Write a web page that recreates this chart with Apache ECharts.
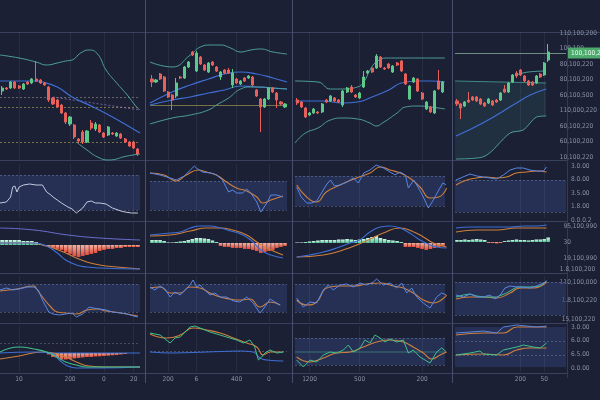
<!DOCTYPE html>
<html><head><meta charset="utf-8">
<script src="https://cdn.jsdelivr.net/npm/echarts/dist/echarts.min.js"></script>
<style>html,body{margin:0;padding:0;background:#1b2034;}#c{width:600px;height:400px;}</style>
</head><body><div id="c"></div>
<script>
// ---------------- DATA ----------------
// candles [open, close, low, high]
const candles1 = [[69,72,65,74],[72,71,70,73],[72,78,71,79],[78,72,71,79],[74,72,71,75],[71,76,70,77],[78,76,75,79],[77,81,76,82],[81,79,78,99],[80,77,76,81],[77,75,74,78],[73,60,58,74],[62,56,55,63],[60,53,52,61],[55,47,46,56],[47,38,36,48],[36,43,34,44],[35,23,21,36],[21,19,17,22],[28,18,16,30],[18,29,17,30],[37,32,30,40],[31,36,29,38],[35,28,27,36],[27,23,22,28],[25,33,24,34],[27,26,25,28],[24,27,23,28],[26,22,21,27],[21,18,17,22],[18,14,13,19],[18,12,11,19],[11,6,4,12]];
const candles2 = [[81,78,73,85],[78,80,77,81],[86,81,80,87],[83,69,68,84],[68,63,62,69],[65,60,50,66],[64,77,62,82],[83,82,81,84],[82,93,81,94],[93,98,92,99],[108,105,104,109],[89,107,88,109],[103,96,95,104],[95,90,89,96],[88,97,87,98],[98,95,94,99],[93,89,88,94],[83,88,80,89],[90,87,86,91],[90,87,86,92],[75,87,72,91],[81,77,76,82],[76,79,75,80],[82,79,78,83],[82,84,81,85],[83,75,74,84],[70,64,63,71],[61,53,28,62],[53,61,52,62],[61,72,60,73],[72,68,67,73],[67,60,52,68],[58,56,55,59],[53,56,52,57]];
const candles3 = [[60,57,55,62],[58,53,52,59],[52,43,42,53],[45,47,44,48],[47,51,46,52],[48,47,46,49],[48,56,47,57],[60,58,57,61],[59,64,58,65],[62,59,58,63],[60,58,57,61],[55,69,53,70],[68,72,67,73],[73,68,67,75],[65,63,62,66],[62,67,61,68],[73,83,72,89],[87,89,86,90],[92,88,87,93],[92,104,91,106],[103,93,92,104],[92,91,90,93],[96,92,91,97],[88,94,87,95],[97,95,94,98],[99,89,88,100],[86,76,75,87],[61,74,60,75],[78,82,77,83],[81,69,68,82],[67,61,60,68],[51,58,50,59],[53,48,47,54],[47,69,46,70],[79,71,70,90],[68,78,67,79]];
const candles4 = [[59,56,54,61],[56,52,41,57],[54,58,53,59],[60,58,57,68],[63,60,59,64],[63,59,58,64],[61,56,55,62],[57,54,53,58],[57,61,56,62],[59,55,54,60],[60,58,57,61],[60,67,59,68],[71,68,67,75],[68,77,67,78],[78,85,77,86],[87,84,82,89],[90,85,84,91],[84,79,78,85],[79,75,74,80],[78,75,74,79],[77,84,76,85],[86,83,82,87],[85,97,84,98],[100,108,98,116]];

// band lines [index, value]
const bbUp1 = [[-0.5,105],[4,102],[8,98],[10.5,95],[13,97],[15,99],[16.5,100],[18.5,107],[20.5,110],[22.5,106],[24.5,90],[27,77],[29.5,65],[31.5,54],[32.5,50]];
const bbMid1 = [[-0.5,79],[7.5,79],[9.5,78],[13,73],[16.5,63],[21.5,53],[26,43],[32.5,27]];
const bbLow1 = [[17.5,18],[20,10],[22.5,3],[25,0],[29.5,4],[32.5,6]];
const bbUp2 = [[-0.5,98],[5,93],[9.5,105],[12,113],[14.5,115],[17,115],[19.5,112],[22,108],[24.5,110],[27,111],[30,108],[33.5,106]];
const bbMidA2 = [[-0.5,57],[5,68],[9.5,75],[14,81],[18,86],[22,88],[26,86],[30,82],[33.5,78]];
const bbMidB2 = [[-0.5,55],[5,60],[9.5,63],[14,67],[18,70],[22,74],[26,73],[33.5,71]];
const bbLow2 = [[-0.5,36],[5,42],[9.5,45],[14,50],[16,55],[19,62],[22,71],[24.5,73],[27,73],[30,72],[33.5,71]];
const bbUp3 = [[-0.5,79],[5,78],[8,71],[11,71],[14.5,73],[16,78],[17.5,90],[19,98],[21.5,102],[24.5,102],[29,102],[32,102],[35.5,102]];
const bbMid3 = [[-0.5,59],[6,59],[11,57],[14.5,58],[18,63],[22,70],[25,77],[29,79],[32,79],[35.5,78]];
const bbLow3 = [[-0.5,17],[2,27],[5,32],[8,40],[11,42],[14.5,41],[17.5,37],[19,34],[20.5,37],[24,47],[26,53],[29,54],[32,53],[35.5,51]];
const bbFlat4 = [[-0.5,79],[22.5,77]];
const bbUp4 = [[15,85],[18,88],[22.5,89]];
const bbMid4 = [[-0.25,24],[6.5,37],[15,57],[18.5,65],[22.5,71]];
const bbLow4 = [[-0.25,1],[6.5,3],[13.4,27],[16.7,30],[20.1,43],[22.5,44]];
const levels1 = [63,53,18];
const slope1 = [[12,63],[32.5,50]];
const level2 = 55;
const tagValue = 107;
const tagLabel = "100,100,220";

// row 2 oscillators
const osc1 = [[-0.5,15],[1,16],[2,21],[2.5,31],[3,32],[3.5,26],[4,31],[5,33],[6.5,34],[8,33],[9.5,33],[10.5,26],[11.5,23],[12,21],[13,18],[14,15],[15.5,11],[16.5,9],[17.5,5],[19,10],[20,16],[21,17],[22,15],[23,15],[24.5,14],[26,10],[28,7],[29,6],[30.5,5],[32,5]];
const osc2B = [[-0.5,45],[2,43],[4.5,40],[6,38],[8,42],[9.5,48],[10.5,52],[11,50],[12.5,46],[14.5,45],[16,43],[17.5,38],[19,26],[20,28],[21,25],[22.5,25],[23.5,29],[24.5,25],[26,16],[27,6],[28.5,15],[29.5,23],[31,23],[32.5,21]];
const osc2O = [[-0.5,45],[3,43],[6,37],[8.5,43],[11.5,48],[13.5,46],[16,43],[18.5,36],[21,30],[23.5,27],[26,21],[27.5,15],[29.5,18],[32.5,22]];
const osc3B = [[-0.1,31],[1,21],[2.3,15],[3.5,15],[4.7,17],[6,26],[7,33],[8,38],[9,32],[10.3,33],[12,36],[13.5,40],[14.7,35],[16,45],[17.5,48],[19,53],[20.7,50],[22.3,46],[23.5,43],[24.7,46],[26,43],[26.7,30],[28,38],[29,31],[30.3,21],[31.5,10],[32.7,18],[34,28],[35,35],[35.9,33]];
const osc3O = [[-0.1,33],[2.3,21],[4.7,16],[7,26],[10.3,33],[14.3,40],[17.5,45],[20,51],[22.3,48],[24.7,45],[27,40],[29.5,31],[32,20],[34,21],[35.9,30]];
const osc4B = [[-0.25,38],[1.5,41],[3.3,44],[5,42],[6.7,41],[8.3,40],[10,39],[11.7,43],[13.4,48],[15,50],[16.7,50],[18.4,48],[20,47],[21.8,47],[22.6,51]];
const osc4O = [[-0.25,33],[2.5,38],[5,40],[7.5,41],[10,40],[12.5,41],[15,45],[17.5,46],[20,47],[22.6,46]];
const oscBand = [[8,43],[8,37],[12,42],[6,38]];

// row 3 MACD
const macd1P = [[-0.5,17],[7.5,15],[15.5,10],[23,7],[32.5,5]];
const macd1O = [[-0.5,2],[3.5,2],[7.5,2],[9.5,0],[12,-3],[15,-8],[17.5,-13],[20,-17],[23,-20],[27,-22],[32.5,-24]];
const macd1B = [[-0.5,2],[7.5,2],[10.5,-1],[13,-8],[15,-15],[17.5,-20],[20,-22],[23,-23],[32.5,-24]];
const hist1 = [5,5,5,5,5,4,4,4,3,1,-1,-2,-3,-4,-5,-7,-9,-11,-12,-11,-10,-9,-8,-6,-5,-4,-4,-3,-3,-2,-2,-2,-2];
const macd2B = [[-0.5,8],[4.5,10],[7,11],[9.5,15],[12,17],[14.5,17],[17,15],[19.5,12],[22,9],[24.5,3],[27,-7],[29.5,-12],[32.5,-15]];
const macd2O = [[-0.5,7],[4.5,8],[9.5,12],[13.5,15],[17,15],[20,13],[23.5,8],[26,1],[28.5,-5],[32.5,-12]];
const hist2 = [3,3,3,2,0.5,0.5,1,1.5,2,3,4,5,5,4.5,4,2.5,1,-3,-4,-4,-5,-5,-5,-6,-6,-7,-8,-10,-9,-8,-7,-5,-4,-3];
const macd3B = [[-0.1,-14],[3,-12],[6.3,-9],[9.5,-5],[12.7,0],[15,3],[17.5,11],[20,16],[22.3,17],[24.7,15],[27,10],[29.5,3],[32,-2],[33.5,-4],[35.9,-5]];
const macd3O = [[-0.1,-14],[6.3,-12],[11,-7],[16,1],[20.7,10],[24.7,15],[28,11],[30.3,6],[32.7,0],[35.9,-4]];
const hist3 = [0.5,0.5,1,1.5,2,2.5,3,3,3,3,3.5,3.5,4,3.5,3,3.5,4,5,6,7,5,4,3,2.5,2,1,-4,-4,-4,-5,-6,-7,-6,-5,-4,-3];
const macd4B = [[-0.25,14],[3.3,15],[8.3,15],[13.4,15],[16.8,16],[20.1,16],[22.6,17]];
const macd4O = [[-0.25,10],[5,12],[10,12],[15.1,14],[20.1,14],[22.6,14]];
const hist4 = [2,2,2.5,2,2.5,3,2.5,2,-1,-1,-1.5,-1,1,1.5,2,2.5,2,2,1.5,2,2.5,2.5,3,4.5];
const macdZero = [245,243,243,242];

// row 4
const r4c1B = [[-0.5,32],[1,34],[2.5,32],[4,33],[6,35],[7.5,35],[8.5,32],[9.5,22],[11,10],[12,8],[13.5,7],[15,8],[16.5,9],[17.5,5],[19,8],[20.5,15],[21.5,14],[23,13],[24.5,12],[26,10],[28,9],[29.5,8],[31,6],[32,5]];
const r4c1O = [[-0.5,31],[3.5,33],[7.5,36],[8,34],[9.5,25],[11.5,15],[13,10],[15,9],[17.5,8],[20,12],[22.5,13],[24.5,11],[28,9],[32,6]];
const r4c2B = [[-0.5,35],[0.7,32],[2,36],[3.2,33],[4.5,25],[5.7,30],[7,27],[8.2,32],[9.4,37],[10.2,42],[11.1,35],[11.9,37],[13.1,32],[14.4,27],[15.6,29],[16.9,25],[18.5,25],[20.2,21],[21.8,20],[23.5,25],[25.1,19],[26.8,9],[28,15],[29.3,23],[30.5,20],[31.8,17]];
const r4c2O = [[-0.5,34],[2,35],[4.5,29],[7,29],[9.4,35],[11.9,34],[14.4,29],[16.9,25],[19.3,23],[21.8,22],[24.3,23],[26.8,15],[29.3,20],[31.8,17]];
const r4c3B = [[-0.1,24],[1.5,15],[3.1,20],[4.7,19],[6.3,32],[7.5,37],[8.7,32],[10.3,37],[11.9,38],[13.5,35],[15.1,39],[16.7,37],[18.3,40],[19.1,43],[20.7,37],[22.3,39],[23.9,34],[25.1,39],[26.3,29],[27.5,34],[28.7,25],[30.3,19],[31.9,14],[33.5,25],[34.7,29],[35.9,27]];
const r4c3O = [[-0.1,22],[2.3,17],[4.7,20],[7.1,34],[10.3,36],[13.5,36],[16.7,38],[19.9,39],[23.1,36],[25.5,34],[27.9,29],[30.3,22],[32.7,19],[35.9,27]];
const r4c4B = [[-0.25,27],[1.6,25],[3.3,28],[5,25],[6.7,25],[8.3,27],[9.6,23],[10.9,27],[12.1,34],[13.4,36],[15.1,35],[16.7,35],[18.4,34],[20.1,36],[21.8,39],[22.6,41]];
const r4c4G = [[-0.25,25],[1.6,27],[3.3,28],[5,26],[6.7,25],[10,25],[12.5,29],[15.1,35],[18.4,35],[21,36],[22.6,41]];
const r4c4O = [[-0.25,23],[3.3,25],[6.7,25],[10,24],[13.4,29],[15.9,34],[19.3,34],[22.6,40]];
const r4Band = [[10,38],[10,38],[10,38],[7,40]];

// row 5
const r5c1G = [[-0.5,20],[4,25],[7.5,23],[10.5,20],[13,15],[15,10],[17.5,7],[20,5],[23,5],[32.5,5]];
const r5c1O = [[-0.5,13],[4,16],[9.5,20],[12,19],[15,15],[17.5,10],[20.5,6],[24.5,5],[32.5,5]];
const r5c1B = [[-0.5,19],[7.5,20],[11.5,19],[13.5,12],[15,7],[17.5,4],[23,4],[32.5,5]];
const r5c1Base = [[10.5,19],[32.5,19]];
const r5hist1 = [null,null,null,null,null,null,null,null,null,null,null,-1.5,-4,-5,-6.5,-6.5,-6,-5.5,-5,-4.5,-4,-4,-3.5,-3.3,-3,-2.7,-2.3,-2,-1.5,-1,null,null,null];
const r5c2G = [[-0.5,39],[2,37],[4.5,29],[5.7,34],[7,35],[9.4,45],[10.7,46],[11.9,44],[14.4,40],[16.9,37],[19.3,34],[21,32],[22.7,29],[24.3,32],[25.5,25],[26.4,12],[27.2,15],[28,19],[29.3,22],[31,19],[32.6,20]];
const r5c2O = [[-0.5,38],[3.6,34],[7,37],[10.2,44],[13.6,42],[16.9,39],[20.2,34],[23.5,29],[26,25],[27.6,17],[29.3,20],[32.6,20]];
const r5c2B = [[-0.5,20],[5.3,19],[13.6,20],[21.8,21],[25.1,20],[26.8,14],[28.5,12],[32.6,11]];
const r5c3G = [[-0.1,12],[1.5,5],[3.1,12],[4.7,10],[6.3,17],[7.9,20],[9.5,19],[11.1,22],[12.3,27],[13.5,20],[15.1,24],[16.3,32],[17.5,29],[18.7,37],[19.9,34],[21.1,30],[22.3,33],[23.9,30],[25.5,32],[26.7,19],[27.9,22],[29.5,15],[31.9,9],[33.5,20],[34.7,24],[35.9,20]];
const r5c3O = [[-0.1,15],[3.1,10],[6.3,14],[9.5,19],[12.7,20],[15.9,25],[19.1,30],[22.3,32],[25.5,30],[27.9,25],[30.3,19],[32.3,13],[34.3,17],[35.9,20]];
const r5c3Mid = [[-0.5,20],[35.5,20]];
const r5c4B = [[-0.25,39],[3.3,40],[6.7,41],[10,39],[11.7,45],[13.4,46],[15.1,47],[17.6,46],[20.1,45],[22.6,46]];
const r5c4O1 = [[-0.25,37],[6.7,39],[11.7,39],[15.1,45],[18.4,45],[22.6,45]];
const r5c4G = [[-0.25,17],[3.3,19],[5.8,21],[6.7,18],[10,17],[11.7,22],[15.1,25],[16.8,27],[19.3,25],[21,24],[22.6,29]];
const r5c4O2 = [[-0.25,17],[6.7,18],[11.7,17],[15.1,22],[18.4,24],[22.6,24]];

// tick labels
const xTickIdx = [[4,16,24,31],[4,11,21,29],[3,15,30],[16,22]];
const xTickLbl = [["10","200","0","20"],["200","6","400","0"],["1200","500","200"],["200","50"]];
const lblR1 = ["110,100,200","100,100","80,100,220","80,100,200","60,100,500","110,000,220","60,100,220","60,100,200","10,100,220"];
const lblR2 = ["3.0.00","8.0.00","3.5.00","1.8.00","0.0.0.2"];
const lblR3 = ["95,100,990","30","19,100,990"];
const lblR4a = ["1.8,100,200","110,100,000"];
const lblR4b = ["1.8,100,220","15,100,220"];
const lblR5 = ["3.0.00","6.0.00","6.5.00","0.0.00"];

// ---------------- LAYOUT / STYLE ----------------
const BG = '#1b2034';
const UP = '#5cc98a', DN = '#e8605a';
const TEAL = '#4e9f98', BLUE = '#3f6fd6', LBLUE = '#5a86e4', ORANGE = '#cf7f3c', GREEN = '#3fbf8c', LAV = '#c5c8df', PURPLE = '#6a6fd0';
const FONT = "'Liberation Sans Narrow','DejaVu Sans Condensed',Roboto,sans-serif";
const TXT = '#8a91a7';
const COLS = [{left:0,width:140,n:33},{left:150,width:137,n:34},{left:295,width:150,n:36},{left:455,width:111,n:28}];
const ROWS = [{top:32,h:128},{top:164,h:54},{top:222,h:50},{top:276,h:46},{top:326,h:46}];

const grids=[], xAxis=[], yAxis=[], series=[];
function mkGrid(c, r, ymin, ymax){
  const g = grids.length;
  grids.push({left:COLS[c].left, top:ROWS[r].top, width:COLS[c].width, height:ROWS[r].h});
  const cats = Array.from({length:COLS[c].n},(_,i)=>String(i));
  const lab = r===4 ? {show:true, interval:(i)=>xTickIdx[c].indexOf(i)>=0,
      formatter:(v,i)=>{const k=xTickIdx[c].indexOf(i);return k>=0?xTickLbl[c][k]:'';},
      color:TXT, fontSize:6.5, fontFamily:FONT, margin:4} : {show:false};
  xAxis.push({type:'category', gridIndex:g, data:cats, boundaryGap:true, axisLine:{show:false}, axisTick:{show:false}, splitLine:{show:false}, axisLabel:lab});
  const xc = xAxis.length-1;
  xAxis.push({type:'value', gridIndex:g, min:-0.5, max:COLS[c].n-0.5, show:false});
  const xv = xAxis.length-1;
  yAxis.push({type:'value', gridIndex:g, min:ymin, max:ymax, show:false});
  const y = yAxis.length-1;
  series.push({type:'line', xAxisIndex:xv, yAxisIndex:y, data:[], symbol:'none', silent:true,
    markLine:{silent:true, symbol:'none', z:1, label:{show:false}, lineStyle:{color:'rgba(170,180,210,0.09)', width:1, type:'solid'},
      data: xTickIdx[c].map(i=>({xAxis:i}))}});
  return {g, xc, xv, y, c};
}
function band(ax, a, b, dashed){
  const ml = dashed.map(v=>({yAxis:v}));
  series.push({type:'line', xAxisIndex:ax.xv, yAxisIndex:ax.y, data:[], symbol:'none', silent:true,
    markArea: a==null ? undefined : {silent:true, itemStyle:{color:'rgba(45,62,112,0.55)'}, data:[[{yAxis:a},{yAxis:b}]]},
    markLine:{silent:true, symbol:'none', z:1, label:{show:false}, lineStyle:{color:'rgba(150,165,205,0.35)', width:1, type:[2,2]}, data:ml}});
}
function ln(ax, data, color, w, smooth, extra){
  series.push(Object.assign({type:'line', xAxisIndex:ax.xv, yAxisIndex:ax.y, data, symbol:'none', smooth:smooth, clip:false, silent:true,
    lineStyle:{color, width:w}, z:3}, extra||{}));
}
function ck(ax, data, extra){
  series.push(Object.assign({type:'candlestick', xAxisIndex:ax.xc, yAxisIndex:ax.y, data, barWidth:2.6, silent:true, z:5,
    itemStyle:{color:UP, color0:DN, borderColor:UP, borderColor0:DN, borderWidth:1}}, extra||{}));
}
const POSG = new echarts.graphic.LinearGradient(0,0,0,1,[{offset:0,color:'#d2f8e6'},{offset:1,color:'#52c99a'}]);
const NEGG = new echarts.graphic.LinearGradient(0,0,0,1,[{offset:0,color:'#f4b1a1'},{offset:1,color:'#e04c3a'}]);
function hist(ax, yIdx, data){
  series.push({type:'bar', xAxisIndex:ax.xc, yAxisIndex:yIdx, silent:true, z:2, barCategoryGap:'12%',
    data: data.map(v=> v==null ? null : {value:v, itemStyle:{color: v>=0 ? POSG : NEGG}})});
}

// ---- Row 1: candles + bands ----
const r1 = [0,1,2,3].map(c=>mkGrid(c,0,0,128));
ln(r1[0], bbUp1, TEAL, 1, true); ln(r1[0], bbMid1, BLUE, 1.2, true); ln(r1[0], bbLow1, TEAL, 1, true);
series.push({type:'line', xAxisIndex:r1[0].xv, yAxisIndex:r1[0].y, data:[], symbol:'none', silent:true,
  markLine:{silent:true, symbol:'none', label:{show:false}, z:2, data:[
    {yAxis:levels1[0], lineStyle:{color:'rgba(170,160,150,0.55)', type:[2,2], width:1}},
    {yAxis:levels1[1], lineStyle:{color:'rgba(200,180,90,0.55)', type:[2,2], width:1}},
    {yAxis:levels1[2], lineStyle:{color:'rgba(200,180,90,0.55)', type:[2,2], width:1}},
    [{coord:slope1[0], lineStyle:{color:'rgba(150,120,200,0.7)', type:[2,2], width:1}},{coord:slope1[1]}]
  ]}});
ck(r1[0], candles1);
ln(r1[1], bbUp2, TEAL, 1, true); ln(r1[1], bbMidA2, BLUE, 1.2, true); ln(r1[1], bbMidB2, BLUE, 1.2, true); ln(r1[1], bbLow2, TEAL, 1, true);
series.push({type:'line', xAxisIndex:r1[1].xv, yAxisIndex:r1[1].y, data:[], symbol:'none', silent:true,
  markLine:{silent:true, symbol:'none', label:{show:false}, z:2, data:[{yAxis:level2, lineStyle:{color:'rgba(160,150,80,0.7)', type:'solid', width:1}}]}});
ck(r1[1], candles2);
ln(r1[2], bbUp3, TEAL, 1, true); ln(r1[2], bbMid3, BLUE, 1.2, true); ln(r1[2], bbLow3, TEAL, 1, true);
ck(r1[2], candles3);
// C4: shaded region between flat level and lower band (area under lower band painted with background)
ln(r1[3], bbFlat4, '#3f8a82', 1, false, {z:1, areaStyle:{color:'rgba(70,150,140,0.2)', origin:'start'}});
ln(r1[3], bbLow4, BG, 0, 0.3, {z:2, lineStyle:{width:0, color:BG}, areaStyle:{color:BG, opacity:1, origin:'start'}});
ln(r1[3], bbLow4, TEAL, 1, 0.3);
ln(r1[3], bbUp4, TEAL, 1, true); ln(r1[3], bbMid4, BLUE, 1.2, true);
ck(r1[3], candles4, {markLine:{silent:true, symbol:'none', data:[{yAxis:tagValue}], lineStyle:{color:'#6d8f80', width:1, type:'solid'},
  label:{show:true, position:'end', formatter:tagLabel, backgroundColor:'#4daa6c', color:'#eafff0', fontSize:6.5, fontFamily:FONT, padding:[2,3], distance:2}}});

// ---- Row 2 ----
const r2 = [0,1,2,3].map(c=>mkGrid(c,1,0,54));
r2.forEach((ax,c)=>band(ax, oscBand[c][0], oscBand[c][1], oscBand[c]));
ln(r2[0], osc1, LAV, 1, false);
ln(r2[1], osc2O, ORANGE, 1.1, true); ln(r2[1], osc2B, LBLUE, 1, false);
ln(r2[2], osc3O, ORANGE, 1.1, true); ln(r2[2], osc3B, LBLUE, 1, false);
ln(r2[3], osc4O, ORANGE, 1.1, true); ln(r2[3], osc4B, LBLUE, 1, false);

// ---- Row 3 ----
const r3 = [0,1,2,3].map(c=>mkGrid(c,2,macdZero[c]-272,macdZero[c]-222));
hist(r3[0], r3[0].y, hist1); ln(r3[0], macd1P, PURPLE, 1, true); ln(r3[0], macd1O, ORANGE, 1.1, true); ln(r3[0], macd1B, BLUE, 1.1, true);
hist(r3[1], r3[1].y, hist2); ln(r3[1], macd2O, ORANGE, 1.1, true); ln(r3[1], macd2B, BLUE, 1.1, true);
hist(r3[2], r3[2].y, hist3); ln(r3[2], macd3O, ORANGE, 1.1, true); ln(r3[2], macd3B, BLUE, 1.1, true);
hist(r3[3], r3[3].y, hist4); ln(r3[3], macd4O, ORANGE, 1.1, true); ln(r3[3], macd4B, BLUE, 1.1, true);

// ---- Row 4 ----
const r4 = [0,1,2,3].map(c=>mkGrid(c,3,0,46));
r4.forEach((ax,c)=>band(ax, r4Band[c][0], r4Band[c][1], r4Band[c]));
ln(r4[0], r4c1O, ORANGE, 1.1, true); ln(r4[0], r4c1B, LBLUE, 1, false);
ln(r4[1], r4c2O, ORANGE, 1.1, true); ln(r4[1], r4c2B, LBLUE, 1, false);
ln(r4[2], r4c3O, ORANGE, 1.1, true); ln(r4[2], r4c3B, LBLUE, 1, false);
ln(r4[3], r4c4O, ORANGE, 1.1, true); ln(r4[3], r4c4G, GREEN, 1, false); ln(r4[3], r4c4B, LBLUE, 1, false);

// ---- Row 5 ----
const r5 = [0,1,2,3].map(c=>mkGrid(c,4,0,46));
band(r5[0], null, null, [29]);
yAxis.push({type:'value', gridIndex:r5[0].g, min:-19, max:27, show:false});
hist(r5[0], yAxis.length-1, r5hist1);
ln(r5[0], r5c1Base, BLUE, 1, false); ln(r5[0], r5c1O, ORANGE, 1.1, true); ln(r5[0], r5c1B, BLUE, 1.1, true); ln(r5[0], r5c1G, GREEN, 1.1, true);
band(r5[1], null, null, [21]);
ln(r5[1], r5c2B, BLUE, 1.1, true); ln(r5[1], r5c2O, ORANGE, 1.1, true); ln(r5[1], r5c2G, GREEN, 1, false);
band(r5[2], 7, 34, [7,34]);
ln(r5[2], r5c3Mid, 'rgba(70,160,140,0.6)', 1, false);
ln(r5[2], r5c3O, ORANGE, 1.1, true); ln(r5[2], r5c3G, GREEN, 1, false);
band(r5[3], 5, 45, [31,17]);
ln(r5[3], r5c4O1, ORANGE, 1.1, true); ln(r5[3], r5c4B, LBLUE, 1, false);
ln(r5[3], r5c4O2, ORANGE, 1.1, true); ln(r5[3], r5c4G, GREEN, 1, false);

// ---- right-side label axes ----
function lblGrid(top, h, labels){
  const g = grids.length;
  grids.push({left:455, width:111, top, height:h});
  xAxis.push({type:'value', gridIndex:g, show:false});
  yAxis.push({type:'category', gridIndex:g, data:labels, inverse:true, boundaryGap:false, position:'right',
    axisLine:{show:false}, axisTick:{show:false}, splitLine:{show:false},
    axisLabel:{interval:0, color:TXT, fontSize:6.5, fontFamily:FONT, margin:5}});
}
lblGrid(33,124,lblR1); lblGrid(166,54,lblR2); lblGrid(226,32,lblR3); lblGrid(269,13,lblR4a); lblGrid(300,19,lblR4b); lblGrid(327,41,lblR5);

// ---- separators ----
const SEP = '#39415e', SEPV = '#474f6e';
const els = [];
[[32,600],[160,567],[221,567],[273,567],[323,567],[373,567]].forEach(([y,x2])=>els.push({type:'line', silent:true, z:0,
  shape:{x1:0,y1:y+0.5,x2:x2,y2:y+0.5}, style:{stroke:SEP, lineWidth:1}}));
[[145,0,383],[292,0,383],[452,0,383],[567,32,378]].forEach(([x,y1,y2])=>els.push({type:'line', silent:true, z:0,
  shape:{x1:x+0.5,y1:y1,x2:x+0.5,y2:y2}, style:{stroke:(x===567?'#333a55':SEPV), lineWidth:1}}));

const chart = echarts.init(document.getElementById('c'), null, {renderer:'canvas'});
chart.setOption({backgroundColor:BG, animation:false, grid:grids, xAxis, yAxis, series, graphic:{elements:els}});
</script></body></html>
